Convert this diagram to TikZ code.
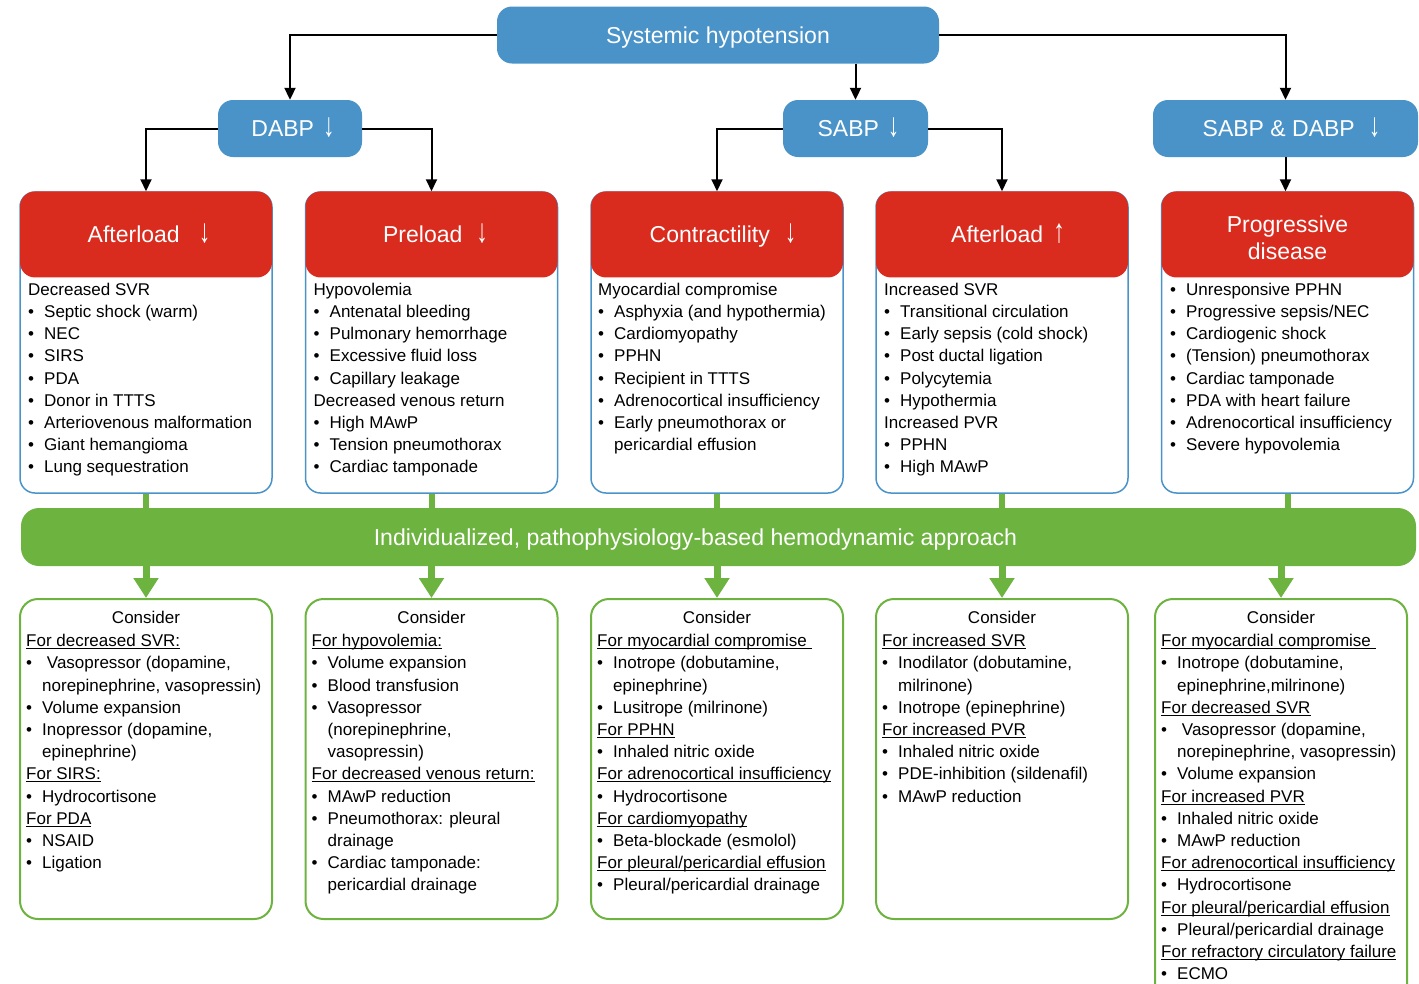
\documentclass[tikz,border=0pt]{standalone}
\usepackage{fontspec}
\setmainfont{Liberation Sans}
\usetikzlibrary{arrows.meta}

\definecolor{hblue}{RGB}{74,147,201}
\definecolor{hred}{RGB}{218,43,31}
\definecolor{hgreen}{RGB}{109,179,63}

\newcommand{\bitem}{\makebox[16pt][l]{•}}
\newcommand{\bcont}{\hspace*{16pt}}
\newcommand{\hdr}[1]{\setbox0=\hbox{#1}\rlap{\rule[-2.5pt]{\wd0}{1pt}}\box0}
\newcommand{\dnarr}{\scalebox{1}[1.45]{↓}}
\newcommand{\uparr}{\scalebox{1}[1.45]{↑}}

\begin{document}
\begin{tikzpicture}[x=1pt, y=-1pt,
	font=\fontsize{17}{22.2}\selectfont,
	capline/.style={text height=16.5pt, text depth=0pt},
	bluebox/.style={fill=hblue, rounded corners=15pt, text=white, font=\fontsize{23}{27}\selectfont, minimum height=57pt, inner sep=0pt, capline},
	outerbox/.style={draw=hblue, line width=1.5pt, rounded corners=15pt, minimum width=252pt, minimum height=301pt, inner sep=0pt},
	redhead/.style={fill=hred, rounded corners=15pt, text=white, font=\fontsize{23}{27}\selectfont, minimum width=252pt, minimum height=86pt, inner sep=0pt, anchor=north},
	cbox/.style={draw=hgreen, line width=2pt, rounded corners=18pt, minimum width=252pt, inner sep=0pt},
	itemlist/.style={anchor=north west, align=left, inner sep=0pt},
	conn/.style={line width=2pt, -{Triangle[width=11pt,length=12pt]}},
	gstem/.style={hgreen, line width=6pt},
	garrow/.style={hgreen, line width=7pt, -{Triangle[width=24pt,length=20pt]}}
	]
	\useasboundingbox (0,0) rectangle (1419,983);
	
	% blue level
	\node[bluebox, minimum width=442pt] (sys) at (718,35) {Systemic hypotension};
	\node[bluebox, minimum width=144pt] (dabp) at (290,128.5) {\hspace{6pt}DABP\hspace{9pt}\dnarr};
	\node[bluebox, minimum width=145pt] (sabp) at (855.5,128.5) {\hspace{6pt}SABP\hspace{9pt}\dnarr};
	\node[bluebox, minimum width=265pt] (both) at (1285.5,128.5) {\hspace{12pt}SABP \& DABP\hspace{14pt}\dnarr};
	
	% red level
	\node[outerbox] (o1) at (146,342.5) {};
	\node[outerbox] (o2) at (431.5,342.5) {};
	\node[outerbox] (o3) at (717,342.5) {};
	\node[outerbox] (o4) at (1002,342.5) {};
	\node[outerbox] (o5) at (1287.5,342.5) {};
	\node[redhead, capline] (h1) at (o1.north) {\hspace{6pt}Afterload\hspace{19pt}\dnarr};
	\node[redhead, capline] (h2) at (o2.north) {\hspace{8pt}Preload\hspace{14pt}\dnarr};
	\node[redhead, capline] (h3) at (o3.north) {\hspace{12pt}Contractility\hspace{15pt}\dnarr};
	\node[redhead, capline] (h4) at (o4.north) {\hspace{12pt}Afterload\hspace{10pt}\uparr};
	\node[redhead] (h5) at (o5.north) {};
	\node[text=white, font=\fontsize{23}{27}\selectfont, align=center, inner sep=0pt] (h5t) at ([yshift=-3pt]h5.center) {Progressive\\disease};
	
	\draw[conn] (sys.west) -| (dabp.north);
	\draw[conn] (sys.south -| sabp.north) -- (sabp.north);
	\draw[conn] (sys.east) -| (both.north);
	\draw[conn] (dabp.west) -| (h1.north);
	\draw[conn] (dabp.east) -| (h2.north);
	\draw[conn] (sabp.west) -| (h3.north);
	\draw[conn] (sabp.east) -| (h4.north);
	\draw[conn] (both.south) -- (both.south |- h5.north);
	
	\node[itemlist] (t1) at (28,279.5) {\strut Decreased SVR\\
		\bitem Septic shock (warm)\\
		\bitem NEC\\
		\bitem SIRS\\
		\bitem PDA\\
		\bitem Donor in TTTS\\
		\bitem Arteriovenous malformation\\
		\bitem Giant hemangioma\\
		\bitem Lung sequestration};
	\node[itemlist] (t2) at (313.5,279.5) {\strut Hypovolemia\\
		\bitem Antenatal bleeding\\
		\bitem Pulmonary hemorrhage\\
		\bitem Excessive fluid loss\\
		\bitem Capillary leakage\\
		Decreased venous return\\
		\bitem High MAwP\\
		\bitem Tension pneumothorax\\
		\bitem Cardiac tamponade};
	\node[itemlist] (t3) at (598,279.5) {\strut Myocardial compromise\\
		\bitem Asphyxia (and hypothermia)\\
		\bitem Cardiomyopathy\\
		\bitem PPHN\\
		\bitem Recipient in TTTS\\
		\bitem Adrenocortical insufficiency\\
		\bitem Early pneumothorax or\\
		\bcont pericardial effusion};
	\node[itemlist] (t4) at (884,279.5) {\strut Increased SVR\\
		\bitem Transitional circulation\\
		\bitem Early sepsis (cold shock)\\
		\bitem Post ductal ligation\\
		\bitem Polycytemia\\
		\bitem Hypothermia\\
		Increased PVR\\
		\bitem PPHN\\
		\bitem High MAwP};
	\node[itemlist] (t5) at (1170,279.5) {\strut\bitem Unresponsive PPHN\\
		\bitem Progressive sepsis/NEC\\
		\bitem Cardiogenic shock\\
		\bitem (Tension) pneumothorax\\
		\bitem Cardiac tamponade\\
		\bitem PDA with heart failure\\
		\bitem Adrenocortical insufficiency\\
		\bitem Severe hypovolemia};
	
	% green bar
	\node[fill=hgreen, rounded corners=18pt, minimum width=1395pt, minimum height=58pt, inner sep=0pt] (bar) at (718.5,537) {};
	\node[text=white, font=\fontsize{23.1}{27}\selectfont, capline, inner sep=0pt] (bartext) at ([xshift=-23pt]bar.center) {Individualized, pathophysiology-based hemodynamic approach};
	
	% green level
	\node[cbox, minimum height=320pt] (c1) at (146,759) {};
	\node[cbox, minimum height=320pt] (c2) at (431.5,759) {};
	\node[cbox, minimum height=320pt] (c3) at (717,759) {};
	\node[cbox, minimum height=320pt] (c4) at (1002,759) {};
	\node[cbox, minimum height=420pt] (c5) at (1281,809) {};
	
	\foreach \i in {1,...,5} {
		\draw[gstem] (o\i.south) -- (o\i.south |- bar.north);
		\draw[garrow] (c\i.north |- bar.south) -- (c\i.north);
		\node[anchor=base] (k\i) at ([yshift=-25pt]c\i.north) {Consider};
	}
	
	\node[itemlist] (s1) at (26,631) {\strut\hdr{For decreased SVR:}\\
		\bitem\ Vasopressor (dopamine,\\
		\bcont norepinephrine, vasopressin)\\
		\bitem Volume expansion\\
		\bitem Inopressor (dopamine,\\
		\bcont epinephrine)\\
		\hdr{For SIRS:}\\
		\bitem Hydrocortisone\\
		\hdr{For PDA}\\
		\bitem NSAID\\
		\bitem Ligation};
	\node[itemlist] (s2) at (311.5,631) {\strut\hdr{For hypovolemia:}\\
		\bitem Volume expansion\\
		\bitem Blood transfusion\\
		\bitem Vasopressor\\
		\bcont (norepinephrine,\\
		\bcont vasopressin)\\
		\hdr{For decreased venous return:}\\
		\bitem MAwP reduction\\
		\bitem Pneumothorax: pleural\\
		\bcont drainage\\
		\bitem Cardiac tamponade:\\
		\bcont pericardial drainage};
	\node[itemlist] (s3) at (597,631) {\strut\hdr{For myocardial compromise\ }\\
		\bitem Inotrope (dobutamine,\\
		\bcont epinephrine)\\
		\bitem Lusitrope (milrinone)\\
		\hdr{For PPHN}\\
		\bitem Inhaled nitric oxide\\
		\hdr{For adrenocortical insufficiency}\\
		\bitem Hydrocortisone\\
		\hdr{For cardiomyopathy}\\
		\bitem Beta-blockade (esmolol)\\
		\hdr{For pleural/pericardial effusion}\\
		\bitem Pleural/pericardial drainage};
	\node[itemlist] (s4) at (882,631) {\strut\hdr{For increased SVR}\\
		\bitem Inodilator (dobutamine,\\
		\bcont milrinone)\\
		\bitem Inotrope (epinephrine)\\
		\hdr{For increased PVR}\\
		\bitem Inhaled nitric oxide\\
		\bitem PDE-inhibition (sildenafil)\\
		\bitem MAwP reduction};
	\node[itemlist] (s5) at (1161,631) {\strut\hdr{For myocardial compromise\ }\\
		\bitem Inotrope (dobutamine,\\
		\bcont epinephrine,milrinone)\\
		\hdr{For decreased SVR}\\
		\bitem\ Vasopressor (dopamine,\\
		\bcont norepinephrine, vasopressin)\\
		\bitem Volume expansion\\
		\hdr{For increased PVR}\\
		\bitem Inhaled nitric oxide\\
		\bitem MAwP reduction\\
		\hdr{For adrenocortical insufficiency}\\
		\bitem Hydrocortisone\\
		\hdr{For pleural/pericardial effusion}\\
		\bitem Pleural/pericardial drainage\\
		\hdr{For refractory circulatory failure}\\
		\bitem ECMO};
\end{tikzpicture}
\end{document}
